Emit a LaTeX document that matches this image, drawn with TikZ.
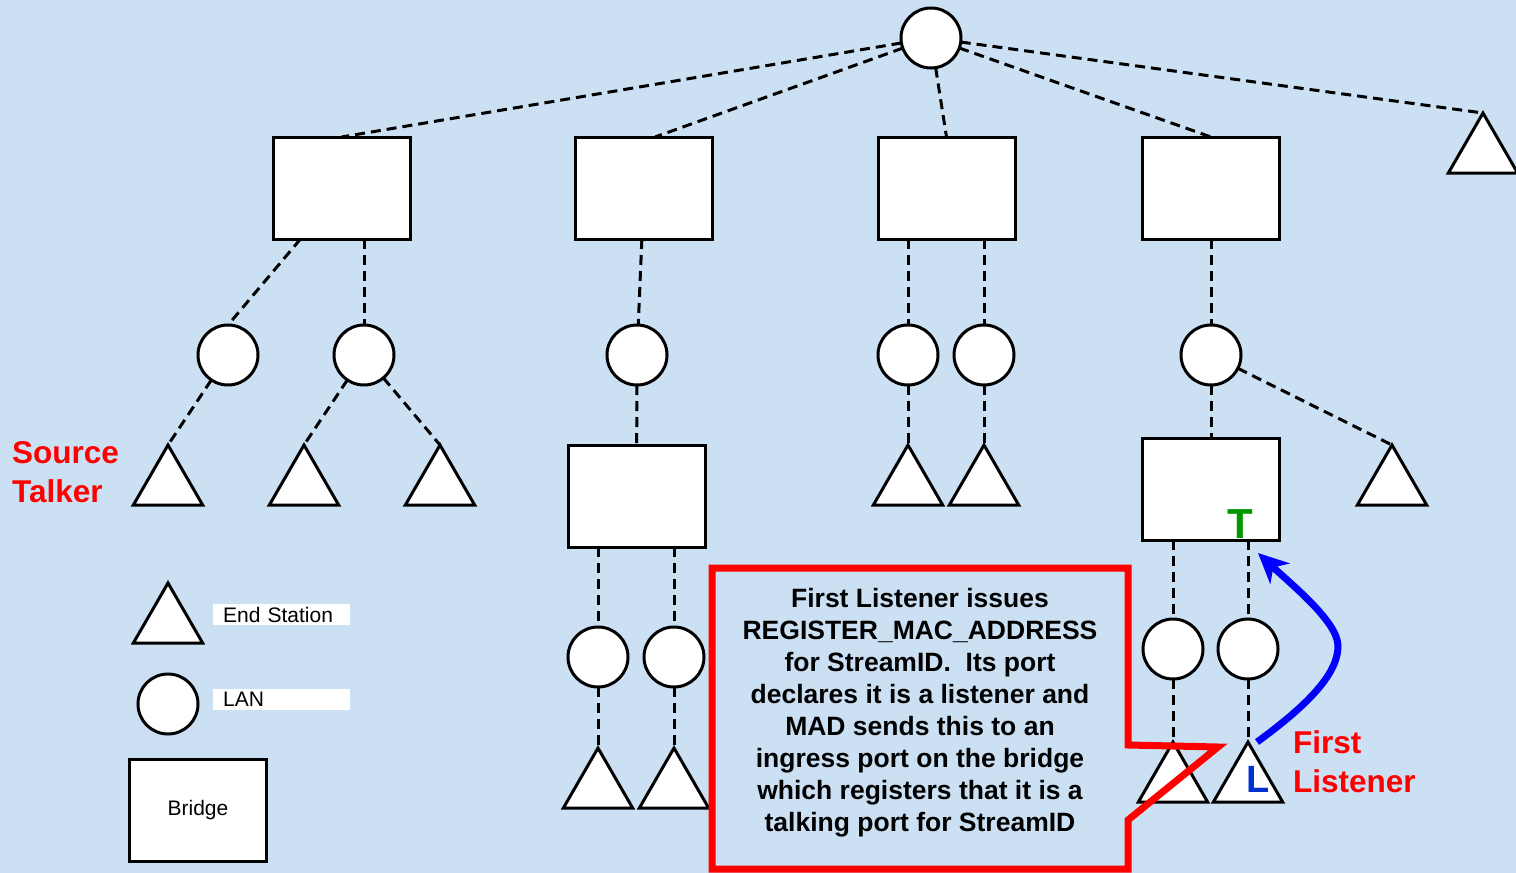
\documentclass[tikz,border=0pt]{standalone}
\usepackage{fontspec}
\setmainfont{Liberation Sans}
\usetikzlibrary{arrows.meta,shapes.geometric,positioning}

\definecolor{bgblue}{RGB}{204,224,244}
\definecolor{tgreen}{RGB}{0,150,0}
\definecolor{lblue}{RGB}{0,50,210}

\begin{document}
\begin{tikzpicture}[x=1pt,y=-1pt,
  lan/.style={circle,draw,fill=white,line width=3pt,minimum size=60pt,inner sep=0pt,outer sep=0pt},
  bridge/.style={rectangle,draw,fill=white,line width=3pt,minimum width=137pt,minimum height=102pt,inner sep=0pt,outer sep=0pt,font=\fontsize{21}{25}\selectfont},
  station/.style={regular polygon,regular polygon sides=3,draw,fill=white,line width=3pt,minimum size=80pt,inner sep=0pt,outer sep=0pt,anchor=corner 1},
  link/.style={line width=3pt,dash pattern=on 10pt off 6pt},
  keytext/.style={fill=white,minimum height=21pt,text width=117pt,inner xsep=10pt,inner ysep=0pt,align=left,anchor=west,font=\fontsize{21}{25}\selectfont},
  redlabel/.style={text=red,font=\fontsize{31.5}{39}\selectfont\bfseries,align=left,anchor=west,inner sep=0pt}]

\useasboundingbox (0,0) rectangle (1516,873);
\fill[bgblue] (0,0) rectangle (1516,873);

% top LAN and first row of bridges
\node[lan]    (lan0) at (931,38)    {};
\node[bridge] (b1)   at (341.5,188) {};
\node[bridge] (b2)   at (644,188)   {};
\node[bridge] (b3)   at (946.5,188) {};
\node[bridge] (b4)   at (1211,188)  {};
\node[station] (t0)  at (1483,113)  {};

% LANs under the bridges
\node[lan] (c1) at (228,355)  {};
\node[lan] (c2) at (364,355)  {};
\node[lan] (c3) at (637,355)  {};
\node[lan] (c4) at (908,355)  {};
\node[lan] (c5) [right=16pt of c4] {};
\node[lan] (c6) at (1211,355) {};

% second row of bridges
\node[bridge] (b5) at (636.5,496) {};
\node[bridge] (b6) at (1211,489)  {};

\node[lan] (c7) at (598,657)  {};
\node[lan] (c8) [right=16pt of c7] {};
\node[lan] (c9) at (1173,649) {};
\node[lan] (c10) [right=15pt of c9] {};

% end stations
\node[station] (t1)  at (168,445)  {};
\node[station] (t2)  at (304,445)  {};
\node[station] (t3)  at (440,445)  {};
\node[station] (t4)  at (908,445)  {};
\node[station] (t5)  at (984,445)  {};
\node[station] (t6)  at (1392,445) {};
\node[station] (t7)  at (598,748)  {};
\node[station] (t8)  at (674,748)  {};
\node[station] (t9)  at (1173,742) {};
\node[station] (t10) at (1248,742) {};

\path[link] (lan0) edge (b1.north)
                   edge ([xshift=11pt]b2.north)
                   edge (b3.north)
                   edge (b4.north)
                   edge (t0.corner 1)
        ([xshift=-41pt]b1.south) edge (c1.north)
        (c2 |- b1.south) edge (c2)
        (c1) edge (t1.corner 1)
        (c2) edge (t2.corner 1)
             edge (t3.corner 1)
        (b2) edge (c3)
        (c3) edge (b5)
        (c4 |- b3.south) edge (c4)
        (c5 |- b3.south) edge (c5)
        (c4) edge (t4.corner 1)
        (c5) edge (t5.corner 1)
        (b4) edge (c6)
        (c6) edge (b6)
             edge (t6.corner 1)
        (c7 |- b5.south) edge (c7)
        (c8 |- b5.south) edge (c8)
        (c7) edge (t7.corner 1)
        (c8) edge (t8.corner 1)
        (c9 |- b6.south) edge (c9)
        (c10 |- b6.south) edge (c10)
        (c9) edge (t9.corner 1)
        (c10) edge (t10.corner 1);

% port marks
\node[text=tgreen,font=\fontsize{42}{42}\selectfont\bfseries,inner sep=0pt] (tmark) at (1240,524) {T};
\node[text=lblue,font=\fontsize{38}{38}\selectfont\bfseries,inner sep=0pt] (lmark) at (1258,779) {L};

% legend
\node[station] (kst)  at (168,583) {};
\node[keytext] (kstl) at (213,614.5) {End Station};
\node[lan]     (klan) at (168,704) {};
\node[keytext] (klanl) at (213,699.5) {LAN};
\node[bridge]  (kbr)  at (198,810) {Bridge};

\node[redlabel] (src)   at (12,472)   {Source\\Talker};
\node[redlabel] (first) at (1293,762) {First\\Listener};

% callout
\coordinate (ptr) at (1218,747);
\draw[red,line width=7pt,line join=miter] (712,568) -- (1128,568) -- (1128,745) -- (ptr)
  -- (1128,820) -- (1128,869) -- (712,869) -- cycle;
\node[font=\fontsize{26.5}{32}\selectfont\bfseries,align=center] (note) at (920,713)
  {First Listener issues\\REGISTER\_MAC\_ADDRESS\\for StreamID.~~Its port\\declares it is a listener and\\MAD sends this to an\\ingress port on the bridge\\which registers that it is a\\talking port for StreamID};

% registration
\coordinate (tport) at (1258,553);
\draw[blue,line width=7pt,-{Stealth[length=30pt,width=28pt,inset=9pt]}]
  ([xshift=9pt]t10.corner 1) .. controls (1312,702) and (1338,672) .. (1338,646)
  .. controls (1338,622) and (1292,585) .. (tport);
\end{tikzpicture}
\end{document}
